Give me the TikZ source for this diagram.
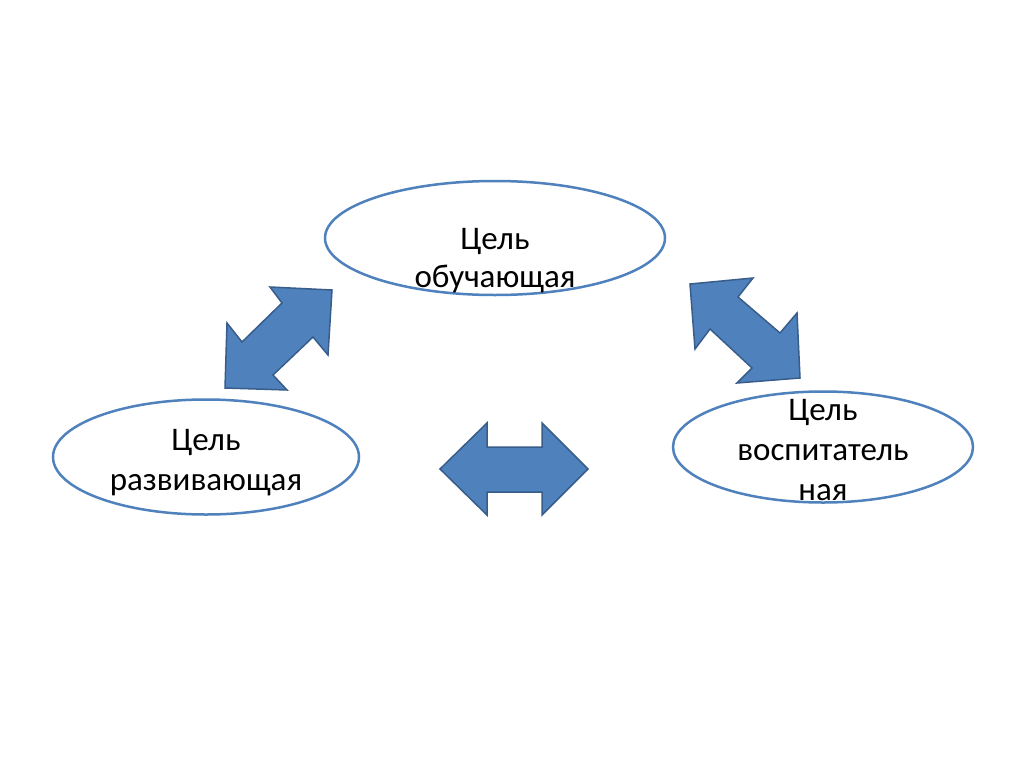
\documentclass[tikz,border=0pt]{standalone}
\usepackage{fontspec}
\setmainfont{Carlito}
\usetikzlibrary{shapes.geometric}
\definecolor{ofblue}{RGB}{79,129,189}
\definecolor{ofdark}{RGB}{56,93,138}
\begin{document}
\begin{tikzpicture}[x=1pt,y=-1pt,
  goal/.style={ellipse,draw=ofblue,line width=2.5pt,inner sep=0pt},
  lbl/.style={align=center,anchor=base,font=\fontsize{33}{40}\selectfont,text=black,inner sep=0pt},
  barrow/.style={fill=ofblue,draw=ofdark,line width=1.5pt,line join=miter}]
\useasboundingbox[fill=white] (0,0) rectangle (1024,768);
% ellipses
\node[goal,minimum width=340pt,minimum height=114pt] (top) at (495,238) {};
\node[goal,minimum width=306pt,minimum height=115pt] (left) at (206,457) {};
\node[goal,minimum width=300pt,minimum height=111pt] (right) at (823,447) {};
% labels (anchor base = baseline of last line)
\node[lbl,font=\fontsize{33}{38}\selectfont] (toptext) at (495,287) {Цель\\обучающая};
\node[lbl] (lefttext) at (206,490) {Цель\\развивающая};
\node[lbl] (righttext) at (823,500) {Цель\\воспитатель\\ная};
% block arrows
\draw[barrow] (332,290) -- (328,355) -- (313,337) -- (273,375) -- (287,390) -- (225,388)
  -- (227,323) -- (242,342) -- (282,303) -- (270,287) -- cycle;
\draw[barrow] (690,284) -- (753,278) -- (738,297) -- (780,333) -- (797,313) -- (800,378)
  -- (737,383) -- (752,368) -- (710,329) -- (695,349) -- cycle;
\draw[barrow] (440,469) -- (487,423) -- (487,447) -- (542,447) -- (542,423) -- (588,469)
  -- (542,515) -- (542,492) -- (487,492) -- (487,515) -- cycle;
\end{tikzpicture}
\end{document}
